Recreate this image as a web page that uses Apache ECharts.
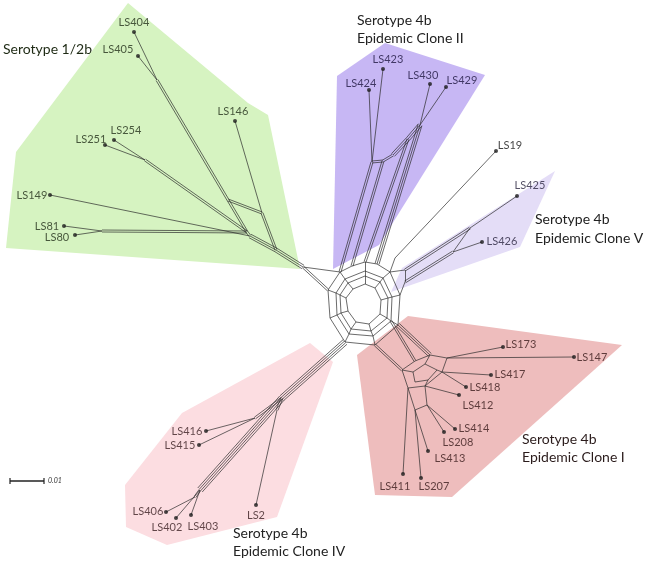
<!DOCTYPE html>
<html><head><meta charset="utf-8">
<script src="https://cdn.jsdelivr.net/npm/echarts@6/dist/echarts.min.js"></script>
<style>html,body{margin:0;padding:0;background:#fff}#c{width:645px;height:562px}</style>
</head><body><div id="c"></div>
<script>
// ---- data ----
const leafNames = ['LS404','LS405','LS146','LS254','LS251','LS149','LS81','LS80',
  'LS423','LS424','LS430','LS429','LS19','LS425','LS426',
  'LS173','LS147','LS417','LS418','LS412','LS414','LS208','LS413','LS411','LS207',
  'LS416','LS415','LS406','LS402','LS403','LS2'];
const leafX = [134,138,235,114,105,50,64,75, 383,369,430,446,496,517,482,
  503,574,491,466,459,455,444,428,403,421, 206,199,166,176,191,256];
const leafY = [32,56,121,140,145,195,226,235, 69,90,84,87,151,196,242,
  347,357,375,387,395,429,432,451,474,478, 431,445,512,518,515,505];
const leafGroup = ['g','g','g','g','g','g','g','g','p','p','p','p','w','v','v',
  'r','r','r','r','r','r','r','r','r','r','k','k','k','k','k','k'];

// internal split-network nodes
const innerNames = ['K1','K2','K23','K3','K34','K4','K5','K6','K7','K8','K9',
  'M1','M2','M3','M4','M5','M6','M7','M8','M9',
  'N1','N2','N3','N4','N5','N6','N7','N8','N9',
  'I1','I2','I3','I4','I5','I6','I7','I8','I9',
  'G0','G1','G2','G2b','G80','G251','G404','G404b','G146',
  'PA','PB','PC','PD','PE',
  'V0','V1','V3','V2a','V2b',
  'E1','E2','E3','E4','E5','E6','E7','F3','F4','H1','H2','H3','H4','H5',
  'W1','W2','W3','W4','W5'];
const innerX = [328,340,352,365,377,390,400,398,375,345,330,
  336,345,365,383,392,391,373,349,337,
  340,348,365,380,388,387,371,351,341,
  346,353,365,375,381,380,369,356,348,
  303,276,250,247,102,145,157,228,262,
  372,383,393,408,420,
  395,470,453,405,405,
  430,415,402,408,425,442,447,427,415,425,413,415,428,437,
  282,277,255,200,195];
const innerY = [290,272,266,262,264,272,295,325,345,342,318,
  293,279,271,278,297,321,336,334,315,
  295,283,276,282,298,318,331,329,313,
  298,289,284,288,300,314,324,322,311,
  267,250,236,232,231,160,80,200,213,
  162,161,155,139,125,
  258,228,252,270,282,
  355,361,370,388,386,372,358,405,410,364,372,382,380,370,
  398,410,418,490,497];

// edges: [from, to, number of parallel splits]
const edges = [
  ['K1','K2',1],['K2','K23',1],['K23','K3',1],['K3','K34',1],['K34','K4',1],['K4','K5',1],['K5','K6',1],['K6','K7',1],['K7','K8',1],['K8','K9',1],['K9','K1',1],
  ['M1','M2',1],['M2','M3',1],['M3','M4',1],['M4','M5',1],['M5','M6',1],['M6','M7',1],['M7','M8',1],['M8','M9',1],['M9','M1',1],
  ['N1','N2',1],['N2','N3',1],['N3','N4',1],['N4','N5',1],['N5','N6',1],['N6','N7',1],['N7','N8',1],['N8','N9',1],['N9','N1',1],
  ['I1','I2',1],['I2','I3',1],['I3','I4',1],['I4','I5',1],['I5','I6',1],['I6','I7',1],['I7','I8',1],['I8','I9',1],['I9','I1',1],
  ['K1','M1',1],['M1','N1',1],['N1','I1',1],['K2','M2',1],['M2','N2',1],['N2','I2',1],['K3','M3',1],['M3','N3',1],['N3','I3',1],
  ['K4','M4',1],['M4','N4',1],['N4','I4',1],['K5','M5',1],['M5','N5',1],['N5','I5',1],['K6','M6',1],['M6','N6',1],['N6','I6',1],
  ['K7','M7',1],['M7','N7',1],['N7','I7',1],['K8','M8',1],['M8','N8',1],['N8','I8',1],['K9','M9',1],['M9','N9',1],['N9','I9',1],
  ['K1','G0',2],['K2','G0',1],['G0','G1',3],['G1','G2',3],['G2','G2b',2],['G2b','G80',2],['G80','LS81',1],['G80','LS80',1],
  ['G2','LS149',1],['G2b','G251',2],['G251','LS251',1],['G251','LS254',1],['G2b','G404b',2],['G404b','G404',2],
  ['G404','LS404',1],['G404','LS405',1],['G404b','G146',2],['LS146','G146',1],['G146','G1',2],
  ['LS424','PA',1],['LS423','PA',1],['LS430','PE',1],['LS429','PE',1],['PE','PD',3],['PD','PC',3],['PC','PB',2],['PB','PA',2],
  ['PA','K2',2],['PB','K23',2],['PD','K3',2],['PE','K34',3],
  ['LS19','V0',1],['V0','K4',1],['LS425','V1',1],['LS426','V3',1],['V1','V3',1],['V1','V2a',2],['V3','V2b',2],['V2a','K4',1],['V2b','K5',1],['V2a','V2b',1],
  ['K6','E1',3],['M6','E2',2],['K7','E3',2],['E1','E2',1],['E2','E3',1],['E3','E4',1],['E4','E5',1],['E5','E6',1],['E6','E7',1],['E7','E1',1],
  ['H1','H2',1],['H2','H3',1],['H3','H4',1],['H4','H5',1],['H5','H1',1],['E1','H1',1],['E3','H2',1],['E5','H4',1],['E6','H5',1],
  ['E4','F4',1],['E5','F3',1],['F3','F4',1],
  ['LS173','E7',1],['LS147','E7',1],['LS417','E6',1],['LS418','E6',1],['LS412','E5',1],['LS414','F3',1],['LS208','F3',1],
  ['LS413','F4',1],['LS411','E4',1],['LS207','F4',1],
  ['K8','W1',4],['W1','W2',2],['W2','LS2',1],['W1','W3',2],['W3','LS416',1],['W3','LS415',1],['W1','W4',4],['W4','W5',2],
  ['W5','LS406',1],['W4','LS402',1],['W4','LS403',1]
];

// shaded clade regions (vertex lists)
const polyGreen = [[128,3],[248,103],[268,115],[300,269],[6,248],[16,152]];
const polyCloneII = [[337,76],[385,43],[485,75],[379,245],[333,269]];
const polyCloneV = [[555,171],[520,247],[391,292],[402,268]];
const polyCloneI = [[357,355],[408,316],[622,345],[452,497],[375,495]];
const polyCloneIV = [[182,413],[310,343],[333,362],[277,517],[167,545],[126,527],[125,485]];

const titles = ['Serotype 1/2b', 'Serotype 4b\nEpidemic Clone II', 'Serotype 4b\nEpidemic Clone V',
  'Serotype 4b\nEpidemic Clone I', 'Serotype 4b\nEpidemic Clone IV'];

// ---- styling / layout ----
const polys = [polyGreen, polyCloneII, polyCloneV, polyCloneI, polyCloneIV];
const polyColors = ['#d6f3c1','#c7b7f4','#e4ddf7','#eebdbd','#fcdde1'];
const groupText = {g:'#23301a', p:'#1e1640', v:'#2a2640', w:'#111', r:'#3a1b1b', k:'#3a1f22'};
const labelOffset = {
  LS404:[0,-10], LS405:[-20,-7], LS146:[-2,-10], LS254:[12,-10], LS251:[-14,-6], LS149:[-18,0], LS81:[-17,0], LS80:[-18,2],
  LS423:[5,-10], LS424:[-8,-7], LS430:[-7,-9], LS429:[16,-7], LS19:[14,-6], LS425:[13,-11], LS426:[20,-1],
  LS173:[18,-3], LS147:[18,0], LS417:[19,-1], LS418:[19,0], LS412:[19,10], LS414:[19,-1], LS208:[14,10],
  LS413:[22,7], LS411:[-8,12], LS207:[13,8], LS416:[-19,0], LS415:[-19,0], LS406:[-18,-1], LS402:[-9,9], LS403:[12,11], LS2:[0,10]
};

const pos = {};
leafNames.forEach((n,i)=>{pos[n]=[leafX[i],leafY[i]];});
innerNames.forEach((n,i)=>{pos[n]=[innerX[i],innerY[i]];});

const lineData = [];
edges.forEach(([a,b,n])=>{
  const p=pos[a], q=pos[b];
  const dx=q[0]-p[0], dy=q[1]-p[1], L=Math.hypot(dx,dy)||1;
  const nx=-dy/L, ny=dx/L, gap=2;
  for(let k=0;k<n;k++){
    const o=(k-(n-1)/2)*gap;
    lineData.push({coords:[[p[0]+nx*o,p[1]+ny*o],[q[0]+nx*o,q[1]+ny*o]]});
  }
});

const leafData = leafNames.map((n,i)=>({
  name:n, value:[leafX[i],leafY[i]],
  label:{offset:labelOffset[n], color:groupText[leafGroup[i]]}
}));

const chart = echarts.init(document.getElementById('c'), null, {renderer:'canvas'});
const fontFam = 'Lato, "Open Sans", sans-serif';
chart.setOption({
  animation:false,
  backgroundColor:'#fff',
  grid:{left:0,right:0,top:0,bottom:0},
  xAxis:{type:'value',min:0,max:645,show:false},
  yAxis:{type:'value',min:0,max:562,inverse:true,show:false},
  series:[
    {type:'custom', z:1, silent:true,
     data:polys.map((_,i)=>[i]),
     renderItem:(params,api)=>{
       const i=params.dataIndex;
       return {type:'polygon', shape:{points:polys[i].map(v=>api.coord(v))}, style:{fill:polyColors[i]}};
     }},
    {type:'lines', coordinateSystem:'cartesian2d', z:3, silent:true, data:lineData,
     lineStyle:{color:'#2b2b2b', width:0.7, opacity:1}},
    {type:'scatter', z:5, symbolSize:4, data:leafData, silent:true,
     itemStyle:{color:'#1a1a1a'},
     label:{show:true, position:'inside', formatter:'{b}', fontFamily:fontFam, fontSize:11,
       align:'center', verticalAlign:'middle'}}
  ],
  graphic:[
    {type:'text', left:3, top:42, style:{text:titles[0], font:'14px '+fontFam, fill:'#1e2a14'}},
    {type:'text', left:357, top:11, style:{text:titles[1], font:'14px '+fontFam, fill:'#222', lineHeight:18}},
    {type:'text', left:535, top:210, style:{text:titles[2], font:'14px '+fontFam, fill:'#222', lineHeight:19}},
    {type:'text', left:522, top:430, style:{text:titles[3], font:'14px '+fontFam, fill:'#2b1c1c', lineHeight:18}},
    {type:'text', left:233, top:524, style:{text:titles[4], font:'14px '+fontFam, fill:'#222', lineHeight:18}},
    {type:'line', shape:{x1:10,y1:481,x2:44,y2:481}, style:{stroke:'#222', lineWidth:1.5}},
    {type:'line', shape:{x1:10,y1:478,x2:10,y2:484}, style:{stroke:'#222', lineWidth:1.2}},
    {type:'line', shape:{x1:44,y1:478,x2:44,y2:484}, style:{stroke:'#222', lineWidth:1.2}},
    {type:'text', left:48, top:477, style:{text:'0.01', font:'italic 7px '+fontFam, fill:'#333'}}
  ]
});
</script></body></html>
